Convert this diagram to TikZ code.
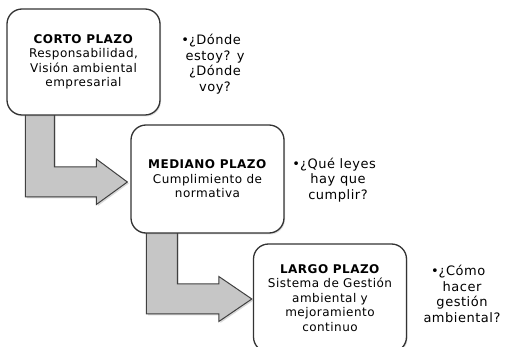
\documentclass[tikz,border=0pt]{standalone}
\usepackage{fontspec}
\setmainfont{DejaVu Sans}[LetterSpace=4]
\usetikzlibrary{shadows,backgrounds}

\begin{document}
\begin{tikzpicture}[x=1pt, y=1pt,
    plazo/.style={draw=black!80, line width=1.3pt, fill=white, rounded corners=15pt,
        minimum width=153pt, minimum height=106pt, align=center,
        font=\fontsize{12}{14.5}\selectfont,
        drop shadow={opacity=0.25, shadow xshift=1pt, shadow yshift=-1.5pt}},
    nota/.style={align=center, font=\fontsize{13}{15.5}\selectfont},
    bendarrow/.style={draw=black!75, line width=1pt, fill=gray!45, line join=miter,
        drop shadow={opacity=0.3, shadow xshift=1.5pt, shadow yshift=-1.5pt}}]
    \useasboundingbox (0,0) rectangle (509,-347);

    % los tres plazos
    \node[plazo] (corto) at (83.5,-62) {\textbf{CORTO PLAZO}\\Responsabilidad,\\Visión ambiental\\empresarial};
    \node[plazo, minimum height=108pt] (mediano) at (207.5,-179) {\textbf{MEDIANO PLAZO}\\Cumplimiento de\\normativa};
    \node[plazo, minimum height=108pt] (largo) at (330,-298) {\textbf{LARGO PLAZO}\\Sistema de Gestión\\ambiental y\\mejoramiento\\continuo};

    % preguntas
    \node[nota] (q1) at (215,-64) {\llap{\textbullet}¿Dónde\\estoy? y\\¿Dónde\\voy?};
    \node[nota] (q2) at (338,-180) {\llap{\textbullet}¿Qué leyes\\hay que\\cumplir?};
    \node[nota] (q3) at (462,-294) {\llap{\textbullet}¿Cómo\\hacer\\gestión\\ambiental?};

    % flechas
    \coordinate (tip1) at ([xshift=-3pt,yshift=-3pt]mediano.west);
    \coordinate (tip2) at ([xshift=-1pt,yshift=-1pt]largo.west);
    \begin{scope}[on background layer]
    \draw[bendarrow] ([xshift=19pt,yshift=4pt]corto.south west) -- ++(29,0)
        |- ([xshift=-31pt,yshift=15pt]tip1) -- ++(0,8) -- (tip1) -- ++(-31,-22.5) -- ++(0,7.5)
        -| ([xshift=19pt,yshift=4pt]corto.south west) -- cycle;
    \draw[bendarrow] ([xshift=16pt,yshift=4pt]mediano.south west) -- ++(31,0)
        |- ([xshift=-33pt,yshift=15pt]tip2) -- ++(0,7.5) -- (tip2) -- ++(-33,-22.5) -- ++(0,7.5)
        -| ([xshift=16pt,yshift=4pt]mediano.south west) -- cycle;
    \end{scope}
\end{tikzpicture}
\end{document}
